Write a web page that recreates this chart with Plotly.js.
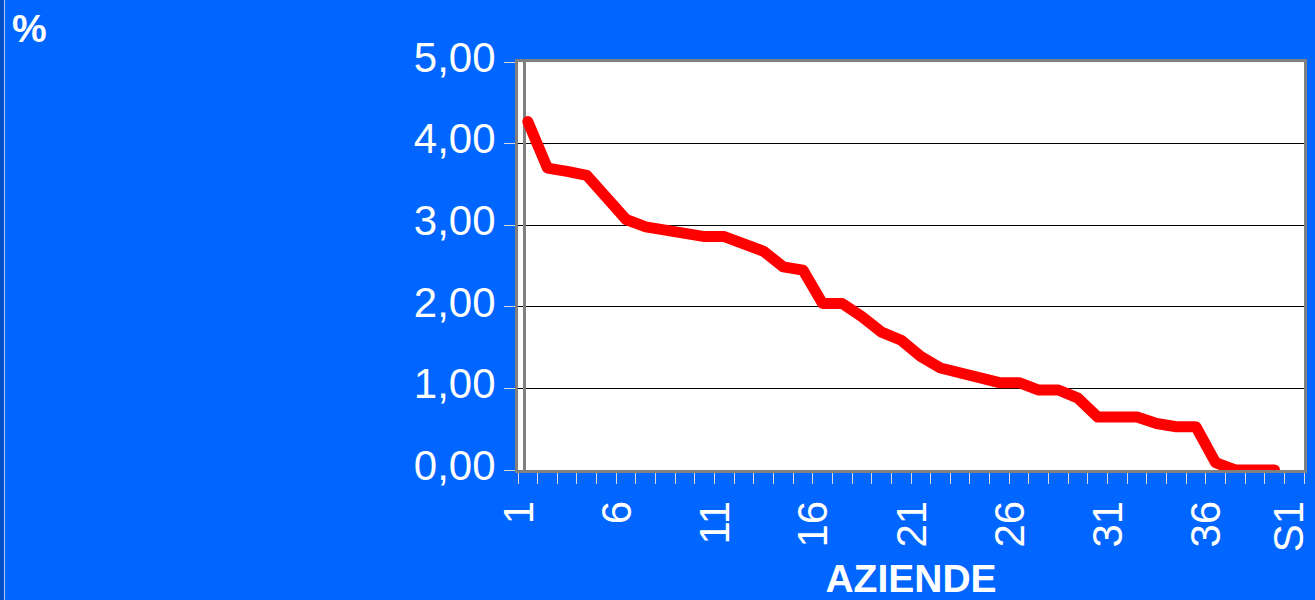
<!DOCTYPE html>
<html>
<head>
<meta charset="utf-8">
<script src="https://cdn.plot.ly/plotly-3.0.1.min.js"></script>
<style>
  html, body { margin: 0; padding: 0; background: #0066FF; }
  #chart { width: 1315px; height: 600px; }
</style>
</head>
<body>
<div id="chart"></div>
<script>
// ---- data ----
const aziende = [1,2,3,4,5,6,7,8,9,10,11,12,13,14,15,16,17,18,19,20,21,22,23,24,25,26,27,28,29,30,31,32,33,34,35,36,37,38,39];
const percentuale = [4.27,3.70,3.66,3.61,3.34,3.07,2.98,2.94,2.90,2.86,2.86,2.77,2.68,2.49,2.45,2.04,2.04,1.88,1.69,1.59,1.39,1.25,1.19,1.10,1.07,1.07,0.98,0.98,0.88,0.65,0.65,0.65,0.57,0.53,0.53,0.09,0.00,0.00,0.00];
const xTickLabels = ['1','6','11','16','21','26','31','36','S1'];
const xTickIndex = [1,6,11,16,21,26,31,36,40.2];
const yTickValues = [0,1,2,3,4,5];
const nCategories = 40;

// ---- layout helpers ----
const L = 518, R = 11, T = 62, B = 130, W = 1315, H = 600;
const plotW = W - L - R;
const plotH = H - T - B;
const px2paperX = p => (p - L) / plotW;
const px2paperY = p => (H - B - p) / plotH;

const boundaries = [];
for (let k = 0; k <= nCategories; k++) boundaries.push(k + 0.5);
const labelPos = xTickIndex.map(v => v - 0.45);

const trace = {
  x: aziende,
  y: percentuale,
  type: 'scatter',
  mode: 'lines',
  line: { color: '#FF0000', width: 11 },
  cliponaxis: false,
  hoverinfo: 'x+y'
};

const font = 'Liberation Sans, Arial, sans-serif';

const layout = {
  width: W, height: H,
  margin: { l: L, r: R, t: T, b: B, autoexpand: false },
  paper_bgcolor: '#0066FF',
  plot_bgcolor: '#FFFFFF',
  separators: ',.',
  showlegend: false,
  font: { family: font, color: '#FFFFFF' },
  xaxis: {
    range: [0.5, nCategories + 0.5],
    tickmode: 'array',
    tickvals: labelPos,
    ticktext: xTickLabels,
    tickangle: -90,
    ticks: 'outside',
    ticklen: 11,
    tickcolor: 'rgba(0,0,0,0)',
    ticklabeloverflow: 'allow',
    tickfont: { family: font, size: 42, color: '#FFFFFF' },
    minor: {
      tickmode: 'array',
      tickvals: boundaries,
      ticks: 'outside',
      ticklen: 11,
      tickwidth: 1,
      tickcolor: '#D8D8D8',
      showgrid: false
    },
    showgrid: false,
    zeroline: false,
    showline: true,
    linecolor: '#808080',
    linewidth: 3,
    mirror: true,
    layer: 'below traces',
    fixedrange: true,
    title: {
      text: 'AZIENDE',
      font: { family: font, size: 39, color: '#FFFFFF', weight: 'bold' },
      standoff: 22
    }
  },
  yaxis: {
    range: [0, 5],
    tickmode: 'array',
    tickvals: yTickValues,
    tickformat: '.2f',
    ticks: 'outside',
    ticklen: 11,
    tickwidth: 1,
    tickcolor: '#D8D8D8',
    ticklabelshift: -5,
    tickfont: { family: font, size: 42, color: '#FFFFFF' },
    showgrid: true,
    gridcolor: '#000000',
    gridwidth: 1,
    zeroline: false,
    showline: true,
    linecolor: '#808080',
    linewidth: 3,
    mirror: true,
    layer: 'below traces',
    fixedrange: true
  },
  shapes: [
    { type: 'line', xref: 'x', yref: 'y', x0: 0.5 + 6.5 / (plotW / nCategories), x1: 0.5 + 6.5 / (plotW / nCategories), y0: 0, y1: 5,
      line: { color: '#808080', width: 3 }, layer: 'between' },
    { type: 'rect', xref: 'paper', yref: 'paper', x0: px2paperX(0), x1: px2paperX(4), y0: px2paperY(H), y1: px2paperY(0),
      fillcolor: '#0050C8', line: { width: 0 }, layer: 'above' },
    { type: 'line', xref: 'paper', yref: 'paper', x0: px2paperX(4.5), x1: px2paperX(4.5), y0: px2paperY(H), y1: px2paperY(0),
      line: { color: '#A8C8FF', width: 1 }, layer: 'above' }
  ],
  annotations: [
    { text: '%', xref: 'paper', yref: 'paper', x: px2paperX(10), y: px2paperY(5),
      xanchor: 'left', yanchor: 'top', showarrow: false,
      font: { family: font, size: 39, color: '#FFFFFF', weight: 'bold' } }
  ]
};

Plotly.newPlot('chart', [trace], layout, { displayModeBar: false, staticPlot: true }).then(gd => {
  // let the thick line run over the frame (as in the original) and give it round ends/joins
  gd.querySelectorAll('.scatterlayer, .scatterlayer *').forEach(el => {
    if (el.hasAttribute('clip-path')) el.removeAttribute('clip-path');
  });
  gd.querySelectorAll('.scatterlayer path.js-line').forEach(p => {
    p.style.strokeLinejoin = 'round';
    p.style.strokeLinecap = 'round';
  });
});
</script>
</body>
</html>
